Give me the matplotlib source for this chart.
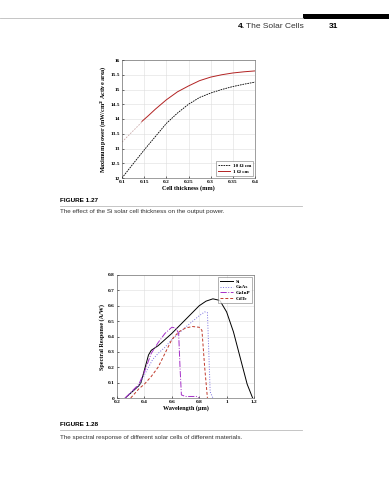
import matplotlib
matplotlib.use("Agg")
import matplotlib.pyplot as plt
from matplotlib.lines import Line2D
from matplotlib.patches import Rectangle

# Figure 1.27: max power vs cell thickness
thick_10 = [0.1, 0.125, 0.15, 0.175, 0.2, 0.225, 0.25, 0.275, 0.3, 0.325, 0.35, 0.375, 0.4]
power_10 = [12.0, 12.48, 12.95, 13.4, 13.85, 14.2, 14.5, 14.73, 14.88, 15.0, 15.1, 15.18, 15.25]
thick_1 = [0.145, 0.16, 0.175, 0.2, 0.225, 0.25, 0.275, 0.3, 0.325, 0.35, 0.375, 0.4]
power_1 = [13.92, 14.12, 14.33, 14.65, 14.92, 15.12, 15.3, 15.42, 15.5, 15.56, 15.6, 15.63]
thick_1x = [0.1, 0.145]
power_1x = [13.22, 13.9]

# Figure 1.28: spectral response
si_wl = [0.26, 0.36, 0.375, 0.43, 0.45, 0.5, 0.6, 0.7, 0.8, 0.85, 0.9, 0.95, 1.0, 1.05, 1.1, 1.15, 1.19]
si_sr = [0.0, 0.08, 0.1, 0.28, 0.31, 0.34, 0.42, 0.51, 0.6, 0.63, 0.645, 0.635, 0.56, 0.43, 0.26, 0.09, 0.0]
gaas_wl = [0.26, 0.36, 0.4, 0.46, 0.5, 0.55, 0.6, 0.7, 0.8, 0.84, 0.86, 0.87, 0.88, 0.9]
gaas_sr = [0.0, 0.08, 0.15, 0.25, 0.29, 0.33, 0.38, 0.46, 0.535, 0.56, 0.555, 0.3, 0.04, 0.0]
gainp_wl = [0.26, 0.36, 0.4, 0.45, 0.5, 0.55, 0.6, 0.63, 0.65, 0.66, 0.67, 0.7, 0.78, 0.8]
gainp_sr = [0.0, 0.09, 0.17, 0.29, 0.36, 0.42, 0.46, 0.455, 0.42, 0.2, 0.02, 0.01, 0.01, 0.0]
cdte_wl = [0.3, 0.36, 0.4, 0.45, 0.5, 0.55, 0.6, 0.65, 0.7, 0.75, 0.8, 0.82, 0.84, 0.86]
cdte_sr = [0.0, 0.06, 0.09, 0.14, 0.2, 0.29, 0.38, 0.43, 0.455, 0.465, 0.46, 0.44, 0.2, 0.0]

serif = ["Liberation Serif", "DejaVu Serif"]
sans = ["Liberation Sans", "DejaVu Sans"]
tick_kw = dict(labelsize=3.9, direction="in", length=1.5, width=0.4, pad=1.5)


def style(ax):
    ax.grid(True, color="#dddddd", lw=0.4)
    ax.set_axisbelow(True)
    ax.tick_params(**tick_kw)
    for lab in ax.get_xticklabels() + ax.get_yticklabels():
        lab.set_family(serif)
        lab.set_fontweight("bold")
    for sp in ax.spines.values():
        sp.set_linewidth(0.4)
        sp.set_color("#555555")


fig = plt.figure(figsize=(3.89, 4.8), dpi=100)

# page header
fig.add_artist(Line2D([0, 303 / 389], [1 - 18 / 480] * 2, color="#bbbbbb", lw=0.6))
fig.add_artist(Rectangle((303 / 389, 1 - 18.5 / 480), 86 / 389, 5 / 480, color="black", lw=0))
fig.text(238 / 389, 1 - 27 / 480, "4.", fontsize=6, fontweight="bold", family=sans, va="center")
fig.text(246 / 389, 1 - 27 / 480, "The Solar Cells", fontsize=6, family=sans, va="center", color="#333333")
fig.text(329 / 389, 1 - 27 / 480, "31", fontsize=6, fontweight="bold", family=sans, va="center")

# chart 1
ax1 = fig.add_axes([122 / 389, 1 - 178 / 480, 133 / 389, 118 / 480])
ax1.plot(thick_10, power_10, "--", color="black", lw=0.6, dashes=(2, 1), label="10 Ω cm")
ax1.plot(thick_1, power_1, "-", color="#b22222", lw=0.7, label="1 Ω cm")
ax1.plot(thick_1x, power_1x, "--", color="#c8a8a8", lw=0.6, dashes=(2, 1.5))
ax1.set_xlim(0.1, 0.4)
ax1.set_ylim(12, 16)
ax1.set_xticks([0.1, 0.15, 0.2, 0.25, 0.3, 0.35, 0.4], ["0.1", "0.15", "0.2", "0.25", "0.3", "0.35", "0.4"])
ax1.set_yticks([12, 12.5, 13, 13.5, 14, 14.5, 15, 15.5, 16], ["12", "12.5", "13", "13.5", "14", "14.5", "15", "15.5", "16"])
style(ax1)
ax1.set_xlabel("Cell thickness (mm)", fontsize=4.4, fontweight="bold", family=serif, labelpad=1)
ax1.set_ylabel("Maximum power (mW/cm$^\\mathbf{2}$ Active area)", fontsize=4.4, fontweight="bold", family=serif, labelpad=2)
leg = ax1.legend(loc="lower right", prop=dict(family=serif, weight="bold", size=3.7), frameon=True,
                 fancybox=False, edgecolor="#555555", handlelength=2.5, borderpad=0.4, labelspacing=0.3,
                 handletextpad=0.4, borderaxespad=0.4)
leg.get_frame().set_linewidth(0.4)

fig.text(60 / 389, 1 - 201 / 480, "FIGURE 1.27", fontsize=4.6, fontweight="bold", family=sans, va="center")
fig.add_artist(Line2D([60 / 389, 302 / 389], [1 - 206 / 480] * 2, color="#bbbbbb", lw=0.6))
fig.text(60 / 389, 1 - 212 / 480, "The effect of the Si solar cell thickness on the output power.",
         fontsize=4.5, family=sans, va="center", color="#333333")

# chart 2
ax2 = fig.add_axes([117 / 389, 1 - 398 / 480, 137 / 389, 123 / 480])
ax2.plot(si_wl, si_sr, "-", color="black", lw=0.7, label="Si")
ax2.plot(gaas_wl, gaas_sr, ":", color="#7a6fe0", lw=0.7, label="GaAs")
ax2.plot(gainp_wl, gainp_sr, "-.", color="#a52fc8", lw=0.7, label="GaInP")
ax2.plot(cdte_wl, cdte_sr, "--", color="#c0392b", lw=0.7, dashes=(3, 2), label="CdTe")
ax2.set_xlim(0.2, 1.2)
ax2.set_ylim(0, 0.8)
ax2.set_xticks([0.2, 0.4, 0.6, 0.8, 1.0, 1.2], ["0.2", "0.4", "0.6", "0.8", "1", "1.2"])
ax2.set_yticks([0, 0.1, 0.2, 0.3, 0.4, 0.5, 0.6, 0.7, 0.8], ["0", "0.1", "0.2", "0.3", "0.4", "0.5", "0.6", "0.7", "0.8"])
style(ax2)
ax2.set_xlabel("Wavelength (μm)", fontsize=4.4, fontweight="bold", family=serif, labelpad=1)
ax2.set_ylabel("Spectral Response (A/W)", fontsize=4.4, fontweight="bold", family=serif, labelpad=2)
leg2 = ax2.legend(loc="upper right", prop=dict(family=serif, weight="bold", size=3.7), frameon=True,
                  fancybox=False, edgecolor="#555555", handlelength=2.5, borderpad=0.4, labelspacing=0.2,
                  handletextpad=0.4, borderaxespad=0.4)
leg2.get_frame().set_linewidth(0.4)

fig.text(60 / 389, 1 - 424 / 480, "FIGURE 1.28", fontsize=4.6, fontweight="bold", family=sans, va="center")
fig.add_artist(Line2D([60 / 389, 302 / 389], [1 - 430 / 480] * 2, color="#bbbbbb", lw=0.6))
fig.text(60 / 389, 1 - 437 / 480, "The spectral response of different solar cells of different materials.",
         fontsize=4.5, family=sans, va="center", color="#333333")

fig.savefig("out.png", dpi=100)
